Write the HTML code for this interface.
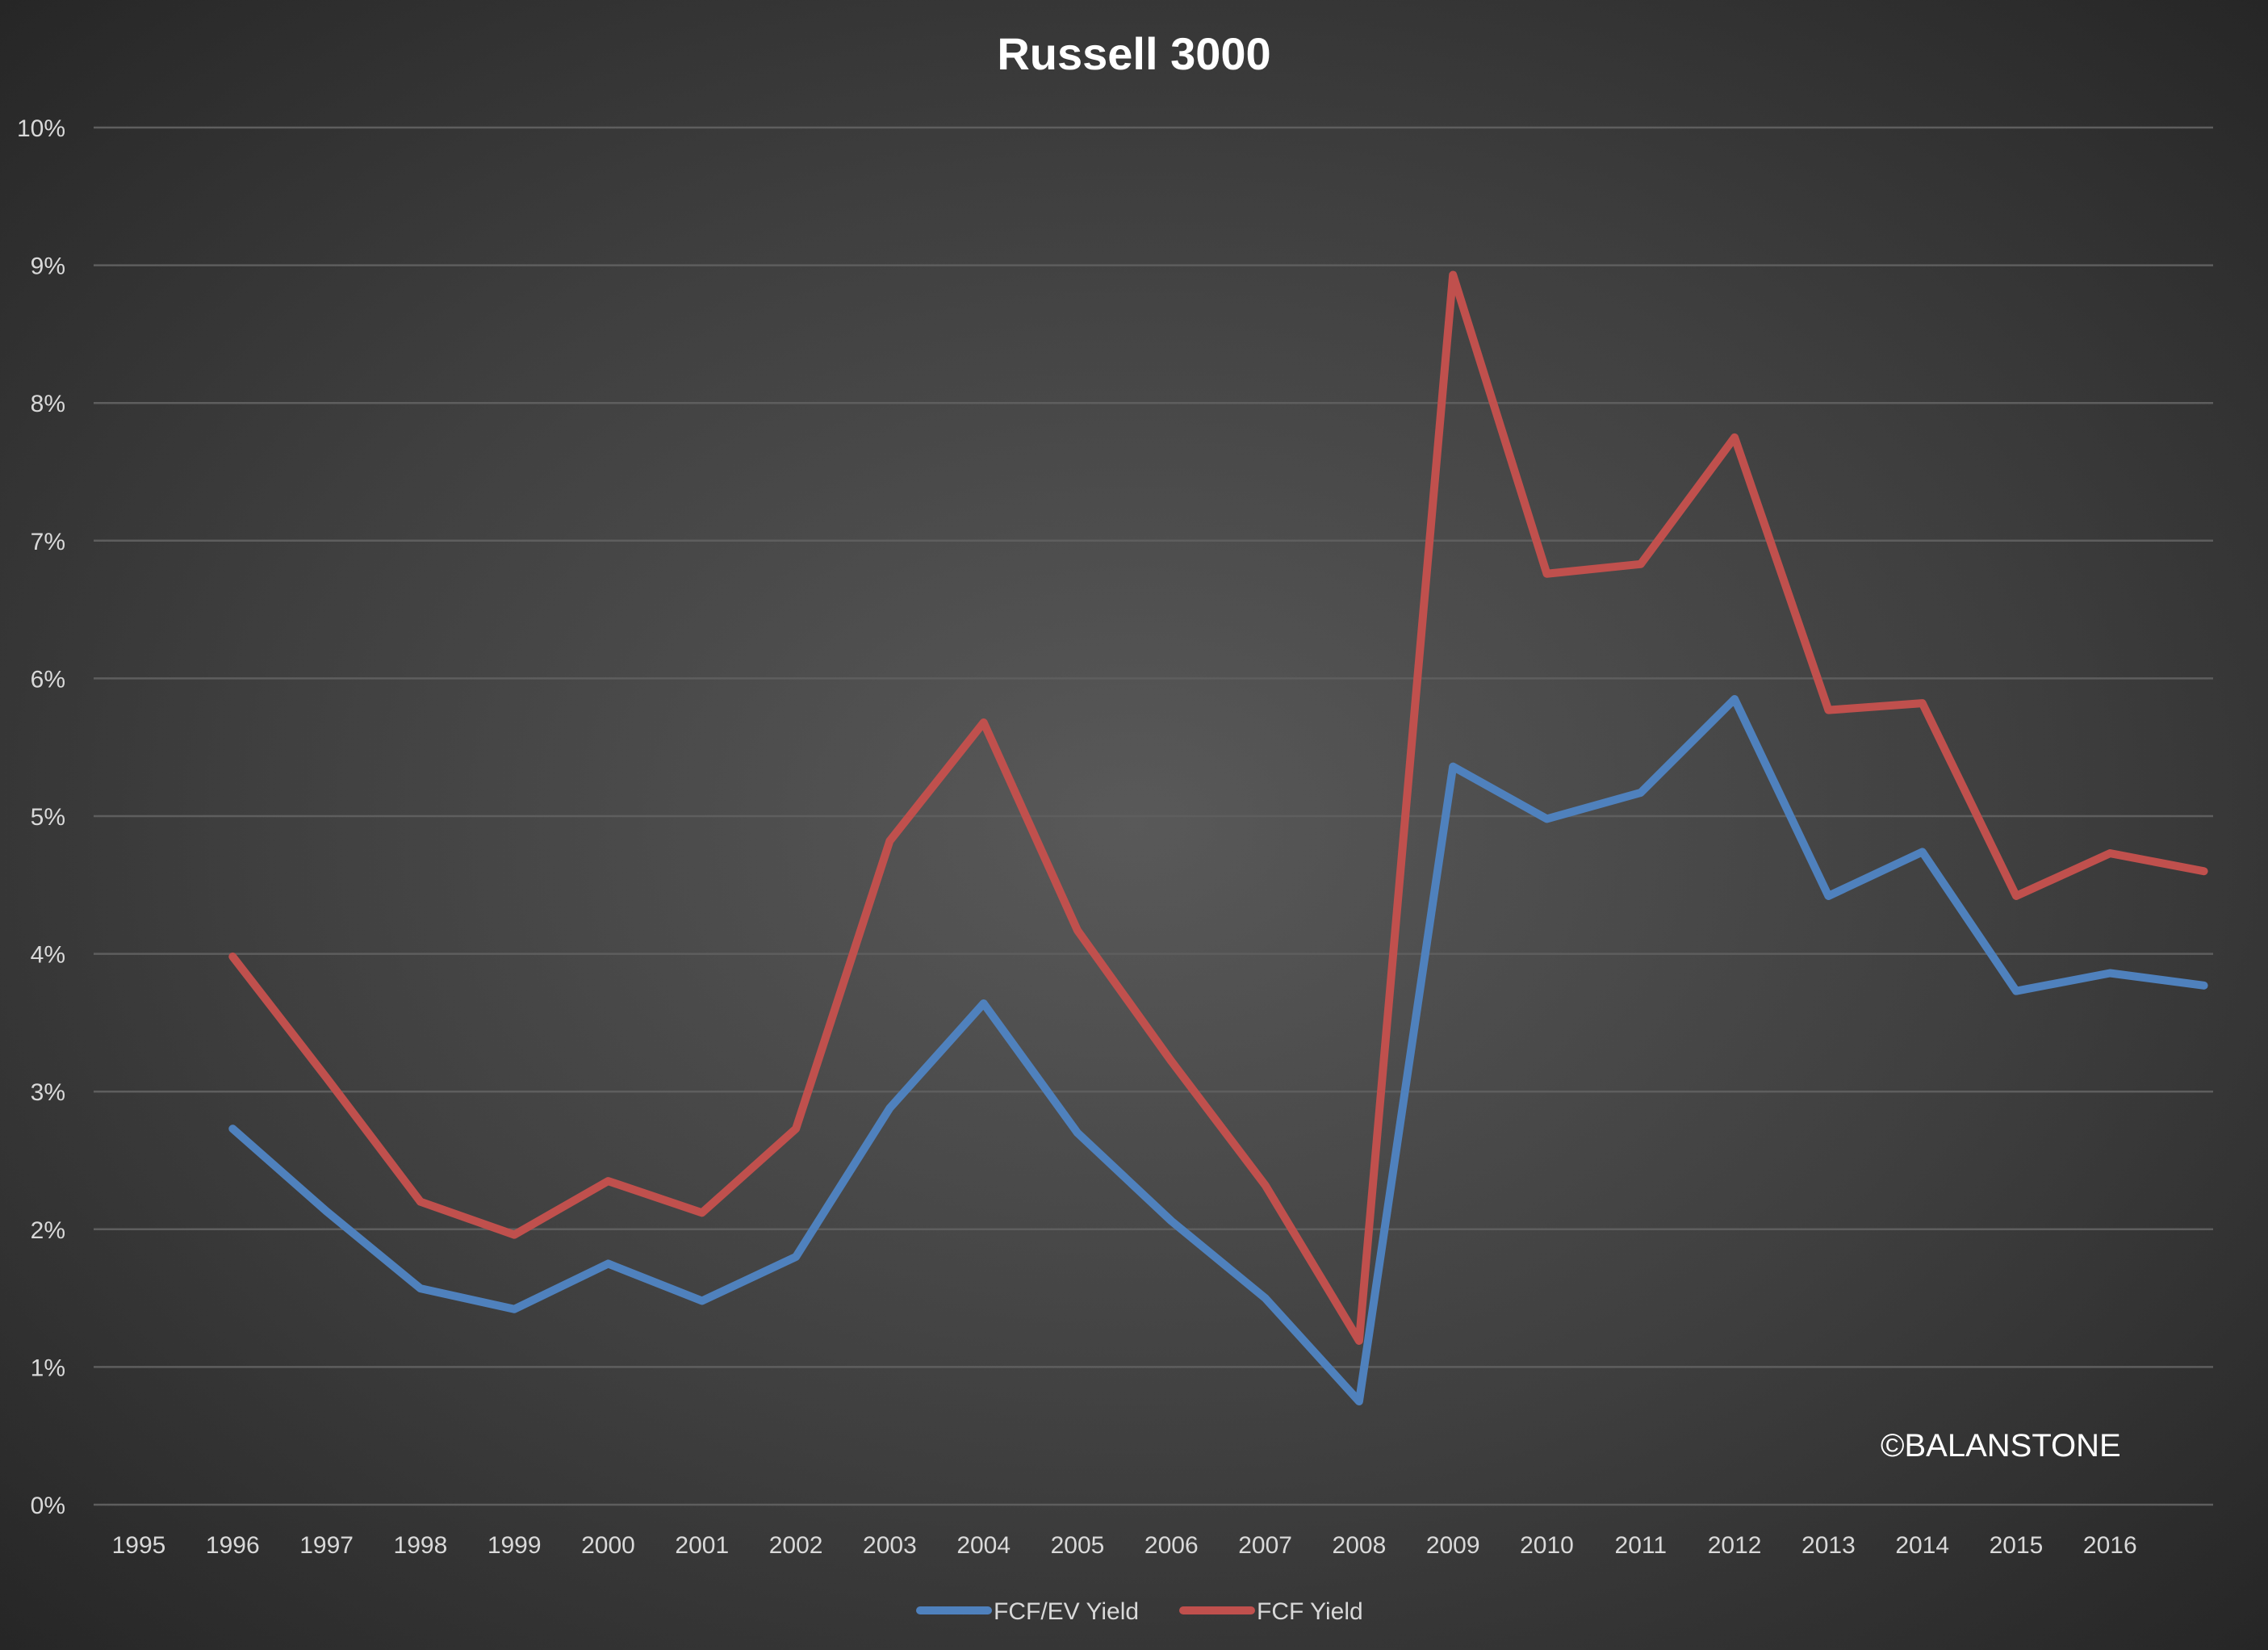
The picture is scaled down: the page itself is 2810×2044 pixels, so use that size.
<!DOCTYPE html>
<html><head><meta charset="utf-8"><style>
html,body{margin:0;padding:0;}
body{width:2810px;height:2039px;overflow:hidden;background:radial-gradient(ellipse at 50% 50%,#595959 0%,#3f3f3f 55%,#262626 100%);font-family:"Liberation Sans",sans-serif;}
</style></head><body>
<svg id="chart" width="2810" height="2039" xmlns="http://www.w3.org/2000/svg"></svg>
<script>
const years=[1996,1997,1998,1999,2000,2001,2002,2003,2004,2005,2006,2007,2008,2009,2010,2011,2012,2013,2014,2015,2016,2017];
const xLabels=[1995,1996,1997,1998,1999,2000,2001,2002,2003,2004,2005,2006,2007,2008,2009,2010,2011,2012,2013,2014,2015,2016];
const fcfEv=[2.73,2.13,1.57,1.42,1.75,1.48,1.8,2.88,3.64,2.7,2.06,1.5,0.75,5.36,4.98,5.17,5.85,4.42,4.74,3.73,3.86,3.77];
const fcf=[3.98,3.1,2.2,1.96,2.35,2.12,2.73,4.82,5.68,4.17,3.22,2.32,1.19,8.93,6.76,6.83,7.75,5.77,5.82,4.42,4.73,4.6];
const yTicks=[0,1,2,3,4,5,6,7,8,9,10];
const svg=document.getElementById('chart');
const NS='http://www.w3.org/2000/svg';
const X=y=>172+(y-1995)*116.3;
const Y=v=>1864-v*170.6;
function mk(t,a,p){const e=document.createElementNS(NS,t);for(const k in a)e.setAttribute(k,a[k]);(p||svg).appendChild(e);return e;}
let t=mk('text',{x:1405,y:86,'text-anchor':'middle','font-size':56,'font-weight':'bold',fill:'#fff','font-family':'Liberation Sans, sans-serif'});
t.textContent='Russell 3000';


yTicks.forEach(v=>{
 const l=mk('line',{x1:116,x2:2742,y1:Y(v),y2:Y(v),stroke:'#5e5e5e','stroke-width':2.5});
 
 
 const tx=mk('text',{x:81,y:Y(v)+11,'text-anchor':'end','font-size':30,fill:'#d9d9d9'});
 tx.textContent=v+'%';
 
 
});
xLabels.forEach(y=>{
 const tx=mk('text',{x:X(y),y:1924,'text-anchor':'middle','font-size':30,fill:'#d9d9d9'});
 tx.textContent=y;
 
 
});
function series(vals,color,name){
 const p=mk('polyline',{points:vals.map((v,i)=>X(years[i])+','+Y(v)).join(' '),fill:'none',stroke:color,'stroke-width':10,'stroke-linejoin':'round','stroke-linecap':'round'});
 
 
}
series(fcfEv,'#4F81BD','fcf-ev-yield-line');
series(fcf,'#C0504D','fcf-yield-line');
const w=mk('text',{x:2330,y:1804,'font-size':40,fill:'#ffffff'});
w.textContent='©BALANSTONE';


[[1140,'#4F81BD','FCF/EV Yield','legend-fcf-ev'],[1466,'#C0504D','FCF Yield','legend-fcf']].forEach(([x,c,s,n])=>{
 const g=mk('g',{});
 
 
 mk('line',{x1:x,x2:x+84,y1:1995,y2:1995,stroke:c,'stroke-width':10,'stroke-linecap':'round'},g);
 const tx=mk('text',{x:x+91,y:2006,'font-size':30,fill:'#d9d9d9'},g);
 tx.textContent=s;
});
</script>
</body></html>
